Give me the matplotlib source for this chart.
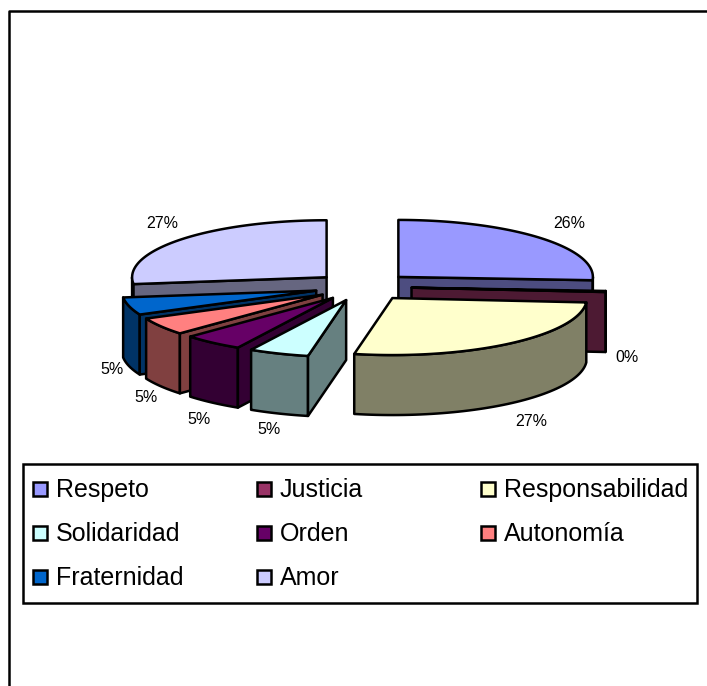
import numpy as np
import matplotlib
matplotlib.use('Agg')
import matplotlib.pyplot as plt
from matplotlib.patches import Polygon, Rectangle

categorias = ['Respeto', 'Justicia', 'Responsabilidad', 'Solidaridad',
              'Orden', 'Autonomía', 'Fraternidad', 'Amor']
valores = [26, 0.3, 27, 5, 5, 5, 5, 27]
colores = ['#9999FF', '#993366', '#FFFFCC', '#CCFFFF',
           '#660066', '#FF8080', '#0066CC', '#CCCCFF']

W, H = 707, 686
CX, CY = 363, 286.7  # centro del pastel, en pixeles
RX, RY = 194.5, 57
ALTO = 60
EXPLODE = 0.25
LW = 1.8

# posicion de cada etiqueta, en el mismo orden que categorias
pos_etiquetas = [(569, 224), (627, 357), (531, 421), (269, 429),
                 (199, 420), (146, 397), (112, 369), (162, 224)]
# orden de dibujo, de atras hacia adelante
orden_dibujo = [7, 0, 1, 6, 5, 4, 2, 3]


def sombra(color):
    return tuple(c / 2 for c in matplotlib.colors.to_rgb(color))


def borde(ang, ax0, ay0):
    a = np.radians(ang)
    return ax0 + RX * np.sin(a), ay0 - RY * np.cos(a)


def cara(ax, puntos, color):
    ax.add_patch(Polygon(puntos, closed=True, facecolor=color, edgecolor='black',
                         linewidth=LW, joinstyle='round'))


def porcion(ax, a1, a2, color):
    medio = np.radians((a1 + a2) / 2)
    ax0 = CX + EXPLODE * RX * np.sin(medio)
    ay0 = CY - EXPLODE * RY * np.cos(medio)
    s = sombra(color)
    # pared exterior, solo la parte que mira hacia adelante
    v1, v2 = max(a1, 90), min(a2, 270)
    if v1 < v2:
        t = np.linspace(v1, v2, 60)
        x, y = borde(t, ax0, ay0)
        pts = np.r_[np.c_[x, y], np.c_[x[::-1], y[::-1] + ALTO]]
        cara(ax, pts, s)
    # paredes del corte
    for ang, visible in ((a1, a1 > 180), (a2, a2 < 180)):
        if visible:
            x, y = borde(ang, ax0, ay0)
            cara(ax, [(ax0, ay0), (x, y), (x, y + ALTO), (ax0, ay0 + ALTO)], s)
    # cara de arriba
    t = np.linspace(a1, a2, 100)
    x, y = borde(t, ax0, ay0)
    cara(ax, np.r_[[(ax0, ay0)], np.c_[x, y]], color)


def main():
    plt.rcParams['font.family'] = ['Liberation Sans', 'DejaVu Sans']
    fig = plt.figure(figsize=(W / 100, H / 100), dpi=100)
    ax = fig.add_axes([0, 0, 1, 1])
    ax.set_xlim(0, W)
    ax.set_ylim(H, 0)
    ax.axis('off')

    # marco exterior, abierto a la derecha y abajo
    ax.plot([8.5, 8.5, W], [H, 11, 11], color='black', lw=LW)

    total = sum(valores)
    limites = np.r_[0, np.cumsum(valores)] / total * 360
    for i in orden_dibujo:
        porcion(ax, limites[i], limites[i + 1], colores[i])

    for v, (x, y) in zip(valores, pos_etiquetas):
        ax.text(x, y, f'{v / total * 100:.0f}%', ha='center', va='center', fontsize=11.5)

    # leyenda
    ax.add_patch(Rectangle((23, 464), 674, 139, facecolor='white', edgecolor='black', linewidth=LW))
    for i, nombre in enumerate(categorias):
        fila, col = divmod(i, 3)
        x = 33 + col * 224
        y = 490 + fila * 44
        ax.add_patch(Rectangle((x, y - 8.5), 14, 14, facecolor=colores[i], edgecolor='black', linewidth=LW))
        ax.text(x + 23, y, nombre, ha='left', va='center', fontsize=18)

    fig.savefig('out.png', dpi=100)


if __name__ == '__main__':
    main()
